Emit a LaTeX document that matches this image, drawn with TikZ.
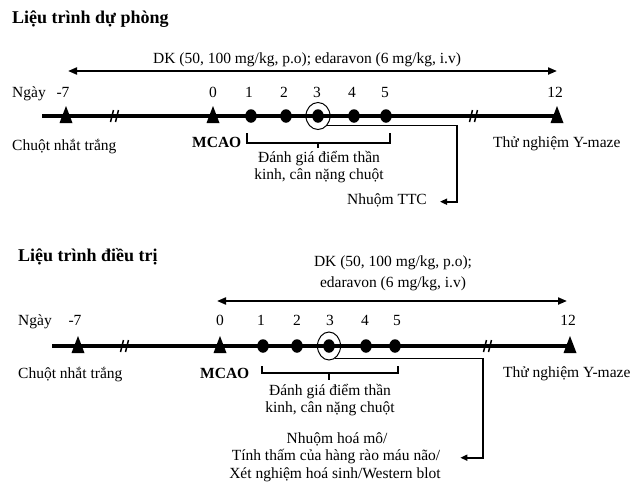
\documentclass[tikz,border=0pt]{standalone}
\usepackage{fontspec}
\setmainfont{Liberation Serif}
\usetikzlibrary{arrows.meta,shapes.geometric}

\begin{document}
\begin{tikzpicture}[x=1pt,y=-1pt,
  txt/.style={inner sep=0pt, font=\fontsize{15.5}{18}\selectfont},
  ttl/.style={inner sep=0pt, font=\fontsize{18}{21}\selectfont\bfseries},
  bld/.style={inner sep=0pt, font=\fontsize{15.5}{18}\selectfont\bfseries},
  axisline/.style={line width=3.8pt},
  dose/.style={line width=2pt, {Triangle[length=9pt,width=7pt]}-{Triangle[length=9pt,width=7pt]}},
  dayfill/.style={ellipse, fill=black, inner sep=0pt, minimum width=11.5pt, minimum height=13.5pt},
  ring/.style={ellipse, draw, line width=1pt, inner sep=0pt, minimum width=24pt, minimum height=27pt},
  brace/.style={line width=1.3pt},
  link/.style={line width=1.6pt, -{Triangle[length=7pt,width=6pt]}},
  marker/.pic={\fill (-6.5,7) -- (6.5,7) -- (0,-10) -- cycle;},
  gap/.pic={\draw[line width=1.5pt] (-4.5,6) -- (-1.5,-6) (0.5,6) -- (3.5,-6);}
]
\useasboundingbox (0,0) rectangle (634,485);

% ---------------- Liệu trình dự phòng ----------------
\node[ttl, anchor=base west] (titleA) at (12,23) {Liệu trình dự phòng};

\coordinate (dA1) at (68,71);
\coordinate (dA2) at (557,71);
\draw[dose] (dA1) -- (dA2);
\node[txt, anchor=base] (doseA) at (307,63) {DK (50, 100 mg/kg, p.o); edaravon (6 mg/kg, i.v)};

\node[txt, anchor=base west] (dayA) at (12,97) {Ngày};
\node[txt, anchor=base] (nA7) at (63,97) {-7};
\node[txt, anchor=base] (nA0) at (213,97) {0};
\node[txt, anchor=base] (nA1) at (249,97) {1};
\node[txt, anchor=base] (nA2) at (284,97) {2};
\node[txt, anchor=base] (nA3) at (317,97) {3};
\node[txt, anchor=base] (nA4) at (352,97) {4};
\node[txt, anchor=base] (nA5) at (385,97) {5};
\node[txt, anchor=base] (nA12) at (555,97) {12};

\coordinate (aL) at (42,116);
\coordinate (aR) at (557,116);
\draw[axisline] (aL) -- (aR);
\pic (gA1) at (115,116) {gap};
\pic (gA2) at (474,116) {gap};
\pic (mA7) at (66,116) {marker};
\pic (mA0) at (213,116) {marker};
\pic (mA12) at (557,116) {marker};
\node[dayfill] (a1) at (251,116) {};
\node[dayfill] (a2) at (286,116) {};
\node[dayfill] (a3) at (318,116) {};
\node[dayfill] (a4) at (354,116) {};
\node[dayfill] (a5) at (386,116) {};
\node[ring] (aring) at (318,116) {};

\node[txt, anchor=base west] (miceA) at (12,150) {Chuột nhắt trắng};
\node[bld, anchor=base west] (mcaoA) at (192,147) {MCAO};
\node[txt, anchor=base west] (ymA) at (493,147) {Thử nghiệm Y-maze};

\draw[brace] (247,133) -- (247,143) -- (390,143) -- (390,133) (318,143) -- (318,148);
\node[txt, anchor=base] (evalA1) at (319,162) {Đánh giá điểm thần};
\node[txt, anchor=base] (evalA2) at (319,179) {kinh, cân nặng chuột};

\node[txt, anchor=base east] (ttc) at (427,204) {Nhuộm TTC};
\coordinate (bendA) at (457,125);
\draw[link] (aring.-45) -- (aring.-45 -| bendA) |- ([xshift=13pt]ttc.mid east);

% ---------------- Liệu trình điều trị ----------------
\node[ttl, anchor=base west] (titleB) at (18,261) {Liệu trình điều trị};

\node[txt, anchor=base] (doseB1) at (393,266) {DK (50, 100 mg/kg, p.o);};
\node[txt, anchor=base] (doseB2) at (393,287) {edaravon (6 mg/kg, i.v)};
\coordinate (dB1) at (217,301);
\coordinate (dB2) at (567,301);
\draw[dose] (dB1) -- (dB2);

\node[txt, anchor=base west] (dayB) at (18,325) {Ngày};
\node[txt, anchor=base] (nB7) at (75,325) {-7};
\node[txt, anchor=base] (nB0) at (220,325) {0};
\node[txt, anchor=base] (nB1) at (261,325) {1};
\node[txt, anchor=base] (nB2) at (297,325) {2};
\node[txt, anchor=base] (nB3) at (330,325) {3};
\node[txt, anchor=base] (nB4) at (365,325) {4};
\node[txt, anchor=base] (nB5) at (397,325) {5};
\node[txt, anchor=base] (nB12) at (568,325) {12};

\coordinate (bL) at (52,346);
\coordinate (bR) at (570,346);
\draw[axisline] (bL) -- (bR);
\pic (gB1) at (125,346) {gap};
\pic (gB2) at (488,346) {gap};
\pic (mB7) at (78,346) {marker};
\pic (mB0) at (220,346) {marker};
\pic (mB12) at (570,346) {marker};
\node[dayfill] (b1) at (263,346) {};
\node[dayfill] (b2) at (297,346) {};
\node[dayfill] (b3) at (329,346) {};
\node[dayfill] (b4) at (366,346) {};
\node[dayfill] (b5) at (395,346) {};
\node[ring, minimum width=23pt, minimum height=28pt] (bring) at (329,346) {};

\node[txt, anchor=base west] (miceB) at (18,378) {Chuột nhắt trắng};
\node[bld, anchor=base west] (mcaoB) at (200,378) {MCAO};
\node[txt, anchor=base west] (ymB) at (503,377) {Thử nghiệm Y-maze};

\draw[brace] (262,366) -- (262,373) -- (398,373) -- (398,366) (329,373) -- (329,380);
\node[txt, anchor=base] (evalB1) at (330,395) {Đánh giá điểm thần};
\node[txt, anchor=base] (evalB2) at (330,412) {kinh, cân nặng chuột};

\node[txt, anchor=base] (resB1) at (337,443) {Nhuộm hoá mô/};
\node[txt, anchor=base] (resB2) at (336,460) {Tính thấm của hàng rào máu não/};
\node[txt, anchor=base] (resB3) at (335,478) {Xét nghiệm hoá sinh/Western blot};
\coordinate (bendB) at (483,358);
\draw[link] (bring.-65) -- (bring.-65 -| bendB) |- ([xshift=20pt]resB2.mid east);
\end{tikzpicture}
\end{document}
